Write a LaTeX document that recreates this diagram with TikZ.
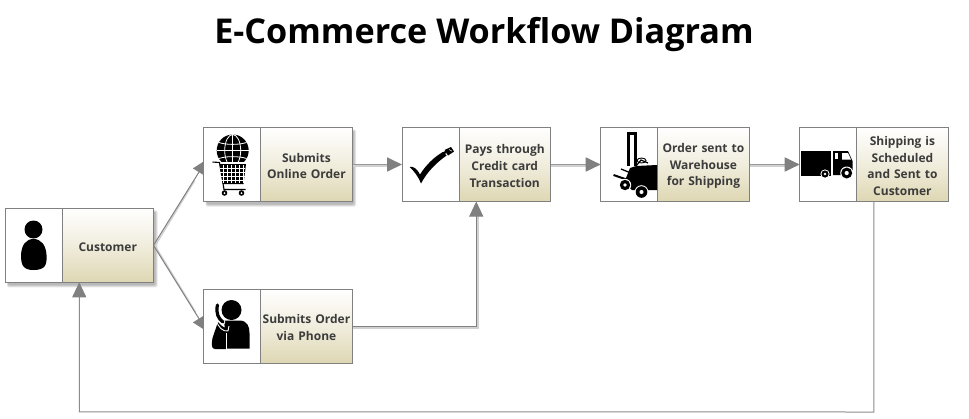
\documentclass[tikz,border=0pt]{standalone}
\usepackage{fontspec}
\setmainfont{Open Sans}
\usetikzlibrary{arrows.meta,backgrounds,calc}
\definecolor{edge}{HTML}{808080}
\definecolor{headc}{HTML}{808080}
\definecolor{txt}{HTML}{3C3C3C}
\definecolor{shade1}{HTML}{FFFFFF}
\definecolor{shade2}{HTML}{DED7B3}
\tikzset{
  x=1pt,y=-1pt,
  box/.style={draw=edge,line width=1pt,fill=white,inner sep=0pt,outer sep=0pt,minimum height=74pt,minimum width=148.5pt,anchor=north west},
  label/.style={inner sep=0pt,outer sep=0pt,minimum height=74pt,minimum width=91.5pt,anchor=north west,top color=shade1,bottom color=shade2,middle color=shade1!55!shade2,
    text=txt,font=\bfseries\fontsize{12}{16.6}\selectfont,align=center,text width=91.5pt,execute at begin node={\rule{0pt}{12pt}}},
  divider/.style={draw=edge,line width=1pt},
  flow/.style={draw=headc!80!white,line width=1.8pt,-{Triangle[length=15pt,width=14pt,fill=headc,color=headc]}},
  thinflow/.style={draw=edge,line width=1pt,-{Triangle[length=15pt,width=14pt,fill=headc,color=headc]}},
  ghost/.style={draw=black!18,line width=1.5pt},
  ink/.style={fill=black,draw=none},
  cutline/.style={draw=white,line width=.8pt},
  soft/.style={fill=black,opacity=.10,draw=none,rounded corners=1.5pt},
}
\begin{document}
\begin{tikzpicture}
\useasboundingbox (0,0) rectangle (969,418);
\node[font=\bfseries\fontsize{34.2}{38}\selectfont,text=black] (title) at (484,34.5) {E-Commerce Workflow Diagram};

% boxes
\node[box] (cust) at (5,208.3) {};
\node[box] (online) at (203.7,127.5) {};
\node[box] (pay) at (402,127.5) {};
\node[box] (ware) at (600.7,127.5) {};
\node[box] (ship) at (799.7,127.5) {};
\node[box] (phone) at (203.7,289.3) {};

\node[label] (custt) at ($(cust.north west)+(57,0)$) {Customer};
\node[label] (onlinet) at ($(online.north west)+(57,0)$) {Submits\\Online Order};
\node[label] (payt) at ($(pay.north west)+(57,0)$) {Pays through\\Credit card\\Transaction};
\node[label] (waret) at ($(ware.north west)+(57,0)$) {Order sent to\\Warehouse\\for Shipping};
\node[label] (shipt) at ($(ship.north west)+(57,0)$) {Shipping is\\Scheduled\\and Sent to\\Customer};
\node[label] (phonet) at ($(phone.north west)+(57,0)$) {Submits Order\\via Phone};

\foreach \n in {cust,online,pay,ware,ship,phone}{
  \draw[divider] (\n t.north west) -- (\n t.south west);
  \draw[draw=edge,line width=1pt] (\n.north west) rectangle (\n.south east);
}

% shadows and connectors behind the boxes
\begin{scope}[on background layer]
  \foreach \d in {0,1,2}{
    \fill[soft] ($(cust.north west)+(3-\d*.5,3-\d*.5)$) rectangle ($(cust.south east)+(2+\d,3+\d)$);
    \fill[soft] ($(online.north west)+(3-\d*.5,3-\d*.5)$) rectangle ($(online.south east)+(2+\d,3+\d)$);
  }
  \draw[ghost] ($(cust.east)+(1,1.5)$) -- ($(online.west)+(-9,16)$);
  \draw[ghost] ($(cust.east)+(1.5,.5)$) -- ($(phone.west)+(-8,-14)$);
  \draw[ghost] ($(online.east)+(0,1.5)$) -- ($(pay.west)+(-14,1.5)$);
  \draw[ghost] ($(pay.east)+(0,1.5)$) -- ($(ware.west)+(-14,1.5)$);
  \draw[ghost] ($(ware.east)+(0,1.5)$) -- ($(ship.west)+(-14,1.5)$);
  \draw[ghost,line width=2.2pt] ($(phone.east)+(0,1.5)$) -| ($(pay.south)+(1.6,14)$);
  \draw[thinflow,shorten >=-6pt] (cust.east) -- (online.west);
  \draw[thinflow,shorten >=-6pt] (cust.east) -- (phone.west);
  \draw[flow] (online.east) -- (pay.west);
  \draw[flow] (pay.east) -- (ware.west);
  \draw[flow] (ware.east) -- (ship.west);
  \draw[thinflow] (phone.east) -| (pay.south);
  \coordinate (ca) at ($(ship.south)+(0,210.5)$);
  \coordinate (cb) at ($(cust.south)+(0,129.5)$);
  \draw[thinflow,draw=black!45] (ship.south) -- (ca) -- (cb) -- (cust.south);
\end{scope}

% customer icon
\fill[ink] (33.5,229.5) circle (9);
\fill[ink] (33.5,239) .. controls (41,239) and (46,245) .. (46.5,255)
  .. controls (47,264) and (46,270) .. (33.5,270)
  .. controls (23,270) and (21,265) .. (21,255)
  .. controls (21.5,245) and (26,239) .. (33.5,239) -- cycle;

% globe + cart icon
\fill[ink] (232.7,150.5) circle (16);
\draw[cutline] (216.7,150.5) -- (248.7,150.5);
\draw[cutline] (232.7,134.5) -- (232.7,166.5);
\draw[cutline] (232.7,150.5) ellipse (8 and 16);
\draw[cutline] (219,142.5) .. controls (226,145) and (239,145) .. (246.5,142.5);
\draw[cutline] (219,158.5) .. controls (226,156) and (239,156) .. (246.5,158.5);
\fill[white] (219,162) rectangle (247,195);
\draw[black,line width=1.1pt] (212.5,162) -- (219.5,162.5) -- (224,189.5) -- (245.5,189.5);
\fill[ink] (219.5,164) -- (246,164) -- (243.5,184) -- (223,184) -- cycle;
\foreach \gx in {223.5,227.5,231.5,235.5,239.5,243}{\draw[white,line width=.6pt] (\gx,165) -- (\gx,183);}
\foreach \gy in {168,172,176,180}{\draw[white,line width=.6pt] (220,\gy) -- (245,\gy);}
\foreach \wx in {224.5,241.5}{\fill[ink] (\wx,193) circle (2.8); \fill[white] (\wx,193) circle (1);}

% phone icon
\fill[ink] (231.5,310) circle (10);
\fill[ink] (224,320.5) -- (240,320.5) .. controls (247,321) and (249.5,326) .. (249.5,333) -- (249.5,348.5) -- (226,348.5) -- (226,340) -- cycle;
\fill[ink] (218,322) .. controls (222,327) and (226,329) .. (228,327) -- (228,343) -- (226,349) -- (215,349)
  .. controls (211,349) and (211.5,344) .. (212.5,338) -- cycle;
\draw[white,line width=.9pt] (216,320) .. controls (218,327) and (223,332) .. (228,331) -- (229,326);
\draw[white,line width=.8pt] (226,333) -- (226,348.5);
\draw[draw=white,line width=4.6pt,line cap=round] (217.5,305) .. controls (215.5,313) and (218.5,319) .. (223,322);
\draw[draw=black,line width=3.2pt,line cap=round] (217.5,305) .. controls (215.5,313) and (218.5,319) .. (223,322);

% check icon
\fill[ink] (409.5,167) .. controls (414,166) and (417,169) .. (420,174.5)
  .. controls (426,165) and (434,157) .. (443,152) -- (446.5,155.5)
  .. controls (436,163) and (427,172) .. (421,183.5)
  .. controls (418,176) and (414,171) .. (409.5,167) -- cycle;
\draw[black,line width=2.4pt] (442,154) -- (446,152);
\fill[ink] (444.5,150) -- (451,147) -- (454,151.5) -- (448,155.5) -- cycle;
\draw[white,line width=.5pt] (449,149.5) -- (452,151.2);

% forklift icon
\fill[ink] (626.5,132) rectangle (636.5,166);
\fill[white] (630,134.5) rectangle (633.5,166);
\fill[ink] (630,168) -- (636,166) -- (657.2,165) -- (657.2,190) -- (632,190) -- (624,183) -- cycle;
\draw[black,line width=1.2pt] (636,166) -- (641,160) -- (648,163);
\draw[black,line width=.9pt] (641.5,160.5) ellipse (4.5 and 2.5);
\draw[black,line width=2pt] (613.5,175) -- (628,180) -- (631,172);
\draw[black,line width=1.3pt] (621,169) -- (631,173);
\foreach \wx/\wy/\wr in {625/185/5.2,641.5/192/5.8}{
  \fill[white] (\wx,\wy) circle (\wr+1);
  \fill[ink] (\wx,\wy) circle (\wr);
  \fill[white] (\wx,\wy) circle (\wr*.35);
}

% truck icon
\fill[ink] (800.5,151) rectangle (831,175.5);
\fill[ink] (833,151) -- (848,151) -- (852.5,161) -- (852.5,175) -- (833,175) -- cycle;
\fill[white] (835,153) rectangle (838,159);
\fill[white] (842,153) -- (848,153) -- (851,159.5) -- (842,159.5) -- cycle;
\foreach \wx/\wy/\wr in {825/174/3.6,846.7/173/5.5}{
  \fill[white] (\wx,\wy) circle (\wr+1);
  \fill[ink] (\wx,\wy) circle (\wr);
  \fill[white] (\wx,\wy) circle (\wr*.38);
}
\end{tikzpicture}
\end{document}
